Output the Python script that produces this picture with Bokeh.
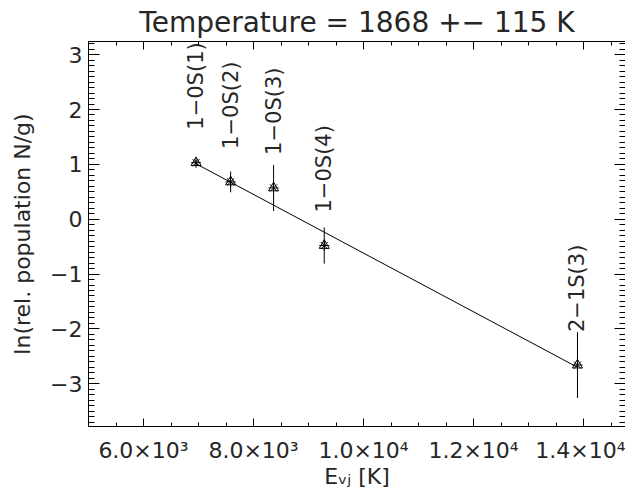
from bokeh.plotting import figure
from bokeh.models import ColumnDataSource, LinearAxis, SingleIntervalTicker, Range1d
from bokeh.core.properties import value
from bokeh.embed import file_html
from bokeh.resources import INLINE

# ---- data ----
lines = ["1−0S(1)", "1−0S(2)", "1−0S(3)", "1−0S(4)", "2−1S(3)"]
energy = [6956, 7584, 8365, 9286, 13890]          # E_vJ [K]
ln_pop = [1.03, 0.68, 0.57, -0.48, -2.66]         # ln(N/g)
ln_err = [0.05, 0.19, 0.42, 0.33, 0.60]
fit_x = [6956, 13890]
fit_y = [1.01, -2.70]
x_ticks = [6000, 8000, 10000, 12000, 14000]
x_tick_labels = ["6.0×10³", "8.0×10³", "1.0×10⁴", "1.2×10⁴", "1.4×10⁴"]
y_ticks = [-3, -2, -1, 0, 1, 2, 3]
y_tick_labels = ["−3", "−2", "−1", "0", "1", "2", "3"]
title_text = "Temperature = 1868 +− 115 K"
x_label = "Eᵥⱼ [K]"
y_label = "ln(rel. population N/g)"

FONT = "DejaVu Sans"
FS = "22px"
INK = "#262626"

src = ColumnDataSource(dict(
    x=energy, y=ln_pop, lo=[v - e for v, e in zip(ln_pop, ln_err)],
    hi=[v + e for v, e in zip(ln_pop, ln_err)], name=lines))

p = figure(width=625, height=491, output_backend="svg", toolbar_location=None,
           x_range=Range1d(5000, 14763), y_range=Range1d(-3.78, 3.24),
           min_border_left=88, min_border_top=40, min_border_right=0, min_border_bottom=61,
           background_fill_color="white", border_fill_color="white")
p.outline_line_color = None
p.grid.visible = False

p.title.text = title_text
p.title.align = "center"
p.title.text_font = FONT
p.title.text_font_size = "28px"
p.title.text_font_style = "normal"
p.title.text_color = INK
p.title.standoff = 6

def style(ax, tick_len, minor_len, labels=True):
    ax.axis_line_color = "black"
    ax.axis_line_width = 1
    ax.major_tick_in = tick_len
    ax.major_tick_out = 0
    ax.minor_tick_in = minor_len
    ax.minor_tick_out = 0
    ax.major_tick_line_color = "black"
    ax.minor_tick_line_color = "black"
    if labels:
        ax.major_label_text_font = FONT
        ax.major_label_text_font_size = FS
        ax.major_label_text_color = INK
        ax.axis_label_text_font = FONT
        ax.axis_label_text_font_size = FS
        ax.axis_label_text_font_style = "normal"
        ax.axis_label_text_color = INK
    else:
        ax.major_label_text_font_size = "1px"
        ax.major_label_text_color = None
        ax.major_label_standoff = 0
        ax.axis_label = None

xa = p.xaxis[0]
xa.ticker = SingleIntervalTicker(interval=2000, num_minor_ticks=4)
xa.major_label_overrides = {t: l for t, l in zip(x_ticks, x_tick_labels)}
xa.axis_label = x_label
style(xa, 8, 4)
xa.major_label_standoff = 11
xa.axis_label_standoff = -2

ya = p.yaxis[0]
ya.ticker = SingleIntervalTicker(interval=1, num_minor_ticks=10)
ya.major_label_overrides = {t: l for t, l in zip(y_ticks, y_tick_labels)}
ya.axis_label = y_label
style(ya, 11, 6)
ya.major_label_standoff = 6
ya.axis_label_standoff = 12
ya.major_label_orientation = "horizontal"

top = LinearAxis(ticker=SingleIntervalTicker(interval=2000, num_minor_ticks=4))
style(top, 8, 4, labels=False)
p.add_layout(top, "above")

right = LinearAxis(ticker=SingleIntervalTicker(interval=1, num_minor_ticks=10))
style(right, 11, 6, labels=False)
right.axis_line_color = None
p.add_layout(right, "right")

# fit line
p.line(fit_x, fit_y, line_color="black", line_width=1)
# error bars
p.segment(x0="x", y0="lo", x1="x", y1="hi", source=src, line_color="black", line_width=1)
# markers
p.scatter("x", "y", source=src, marker="triangle", size=10, fill_color=None,
          line_color="black", line_width=1)
p.scatter("x", "y", source=src, marker="asterisk", size=10, line_color="black", line_width=1)
# line names
p.text("x", "y", text="name", source=src, angle=1.5708, text_align="left",
       text_baseline="middle", y_offset=-33, text_font=value(FONT),
       text_font_size="21px", text_color=INK)

open("out.html", "w").write(file_html(p, INLINE))
